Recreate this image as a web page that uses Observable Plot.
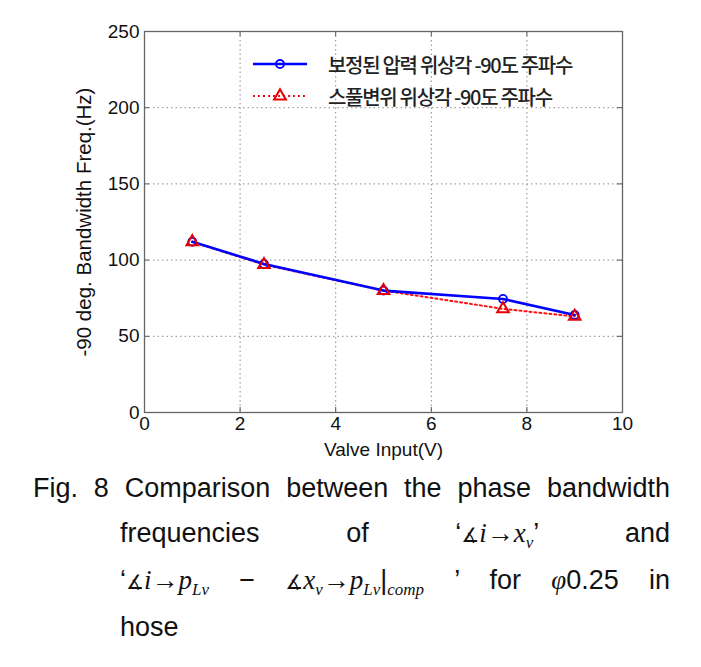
<!DOCTYPE html>
<html><head><meta charset="utf-8">
<script src="https://cdn.jsdelivr.net/npm/d3@7"></script>
<script src="https://cdn.jsdelivr.net/npm/@observablehq/plot@0.6"></script>
<style>
body{margin:0;background:#fff;}
#wrap{position:relative;width:701px;height:667px;overflow:hidden;background:#fff;}
#chart svg{display:block;}
.leg{position:absolute;left:0;top:0;}
.legrow{position:absolute;height:24px;display:flex;align-items:center;}
.legtxt{font-family:"Noto Sans CJK KR",sans-serif;font-size:20px;font-weight:500;letter-spacing:-1.3px;color:#222;white-space:nowrap;}
.cap{font-family:"Liberation Sans",Arial,sans-serif;font-size:27px;line-height:45px;color:#111;}
.ln{text-align:justify;text-align-last:justify;}
.m{font-family:"Liberation Serif","DejaVu Serif",serif;font-style:italic;}
.s{font-family:"DejaVu Sans",sans-serif;font-size:20px;font-style:normal;}
sub{font-size:17px;vertical-align:-6px;line-height:0;}
</style></head>
<body>
<div id="wrap">
  <div id="chart"></div>
  <div id="legend" class="leg"></div>
  <div class="cap" style="position:absolute;left:0;top:466px;width:701px;">
    <div class="ln" style="margin-left:33px;width:637px;">Fig. 8 Comparison between the phase bandwidth</div>
    <div class="ln" style="margin-left:120px;width:550px;">frequencies of <span>&lsquo;<span class="s">&#8737;</span><span class="m">i</span>&rarr;<span class="m">x</span><sub class="m">v</sub>&rsquo;</span> and</div>
    <div class="ln" style="margin-left:120px;width:550px;"><span>&lsquo;<span class="s">&#8737;</span><span class="m">i</span>&rarr;<span class="m">p</span><sub class="m">Lv</sub></span> &minus; <span><span class="s">&#8737;</span><span class="m">x</span><sub class="m">v</sub>&rarr;<span class="m">p</span><sub class="m">Lv</sub>|<sub class="m">comp</sub></span> &rsquo; for <span><span class="m">&phi;</span>0.25</span> in</div>
    <div style="margin-left:120px;">hose</div>
  </div>
</div>
<script>
// ---- data ----
const valveInput = [1, 2.5, 5, 7.5, 9];
const compensatedFreq = [112, 97.5, 80, 74.5, 64];
const spoolFreq = [112, 97, 80, 68, 63];
const seriesNames = ["보정된 압력 위상각 -90도 주파수", "스풀변위 위상각 -90도 주파수"];
const xTicks = [0, 2, 4, 6, 8, 10];
const yTicks = [0, 50, 100, 150, 200, 250];
const xGrid = [2, 4, 6, 8];
const yGrid = [50, 100, 150, 200];

const comp = valveInput.map((x, i) => ({x, y: compensatedFreq[i]}));
const spool = valveInput.map((x, i) => ({x, y: spoolFreq[i]}));

const W = 701, H = 468, mT = 31, mB = 56, mL = 144, mR = 79;
const plotH = H - mT - mB, plotW = W - mL - mR;
const gridStyle = {stroke: "#8a8a8a", strokeOpacity: 1, strokeWidth: 1, strokeDasharray: "1.5,3"};
const tickStyle = {stroke: "#555", strokeWidth: 1};

const chart = Plot.plot({
  width: W, height: H,
  marginTop: mT, marginBottom: mB, marginLeft: mL, marginRight: mR,
  x: {domain: [0, 10]},
  y: {domain: [0, 250]},
  style: {fontFamily: "Liberation Sans, Arial, sans-serif", fontSize: "19px", color: "#111", background: "#fff"},
  marks: [
    Plot.gridX(xGrid, gridStyle),
    Plot.gridY(yGrid, gridStyle),
    Plot.tickX(xTicks, {x: d => d, insetTop: plotH - 5, ...tickStyle}),
    Plot.tickX(xTicks, {x: d => d, insetBottom: plotH - 5, ...tickStyle}),
    Plot.tickY(yTicks, {y: d => d, insetRight: plotW - 5, ...tickStyle}),
    Plot.tickY(yTicks, {y: d => d, insetLeft: plotW - 5, ...tickStyle}),
    Plot.frame({stroke: "#666", strokeWidth: 1.3}),
    Plot.axisX(xTicks, {tickSize: 0, tickPadding: 4, label: null, fontSize: 19, fill: "#111"}),
    Plot.axisX({ticks: [], tickSize: 0, label: "Valve Input(V)", labelAnchor: "center", labelOffset: 43, labelArrow: "none", fontSize: 19, fill: "#111"}),
    Plot.axisY(yTicks, {tickSize: 0, tickPadding: 5, label: null, fontSize: 19, fill: "#111"}),
    Plot.axisY({ticks: [], tickSize: 0, label: "-90 deg. Bandwidth Freq.(Hz)", labelAnchor: "center", labelOffset: 68, labelArrow: "none", fontSize: 20.5, fill: "#111"}),
    Plot.line(spool, {x: "x", y: "y", stroke: "#ff1010", strokeWidth: 2, strokeDasharray: "2,3"}),
    Plot.line(comp, {x: "x", y: "y", stroke: "#0000ff", strokeWidth: 2.6}),
    Plot.dot(comp, {x: "x", y: "y", r: 4, stroke: "#0000ff", strokeWidth: 1.8, fill: "none"}),
    Plot.dot(spool, {x: "x", y: "y", r: 4.3, symbol: "triangle", stroke: "#e60000", strokeWidth: 2, fill: "none"})
  ]
});
document.getElementById("chart").appendChild(chart);

// legend (HTML overlay)
const leg = document.getElementById("legend");
const rows = [
  {top: 52, name: seriesNames[0], sym: `<line x1="0" y1="12" x2="54" y2="12" stroke="#0000ff" stroke-width="2.6"/><circle cx="27" cy="12" r="4" fill="none" stroke="#0000ff" stroke-width="1.8"/>`},
  {top: 84, name: seriesNames[1], sym: `<line x1="0" y1="12" x2="54" y2="12" stroke="#ff1010" stroke-width="2" stroke-dasharray="2,3"/><path d="${d3.symbol(d3.symbolTriangle, 60)()}" transform="translate(27,12)" fill="none" stroke="#e60000" stroke-width="2"/>`}
];
for (const r of rows) {
  const div = document.createElement("div");
  div.className = "legrow";
  div.style.left = "253px";
  div.style.top = r.top + "px";
  div.innerHTML = `<svg width="54" height="24" style="display:block">${r.sym}</svg><span class="legtxt" style="margin-left:21px">${r.name}</span>`;
  leg.appendChild(div);
}
</script>
</body></html>
